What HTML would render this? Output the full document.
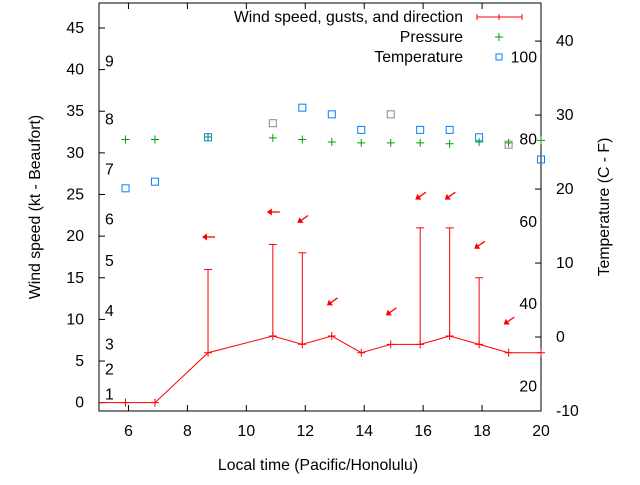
<!DOCTYPE html>
<html><head><meta charset="utf-8"><style>
body{margin:0;background:#fff}
svg{font-family:"Liberation Sans",sans-serif;font-size:15.8px}
</style></head><body>
<svg id="c" width="640" height="480"></svg>
<script>
const hours=[5.9,6.9,8.7,10.9,11.9,12.9,13.9,14.9,15.9,16.9,17.9,18.9,20];
const windSpeed=[0,0,6,8,7,8,6,7,7,8,7,6,6];
const gustHours=[8.7,10.9,11.9,15.9,16.9,17.9];
const gustValues=[16,19,18,21,21,15];
const pressure=[31.6,31.6,31.9,31.8,31.6,31.3,31.2,31.2,31.2,31.1,31.3,31.2,31.5];
const temperature=[20.1,21,27,28.9,31,30.1,28,30.1,28,28,27,26,24];
const tempGray=[0,0,0,1,0,0,0,1,0,0,0,1,0];
const arrowHours=[8.7,10.9,11.9,12.9,14.9,15.9,16.9,17.9,18.9];
const arrowY=[19.9,22.9,22,12.1,10.9,24.8,24.8,18.9,9.8];
const arrowDir=[0,0,35,35,35,35,35,35,35];
const xTicks=[6,8,10,12,14,16,18,20];
const yTicks=[0,5,10,15,20,25,30,35,40,45];
const tTicks=[-10,0,10,20,30,40];
const beaufort=[1,2,3,4,5,6,7,8,9];
const beaufortY=[1,4,7,11,17,22,28,34,41];
const fahr=[20,40,60,80,100];
const L=99,R=541,T=3,B=411;
const X=h=>L+(h-5)/15*(R-L);
const Y=v=>B-(v+1)/49*(B-T);
const TY=t=>B-(t+10)/55.15*(B-T);
const s=document.getElementById('c');const NS='http://www.w3.org/2000/svg';
function el(tag,a,p){const e=document.createElementNS(NS,tag);for(const k in a)e.setAttribute(k,a[k]);(p||s).appendChild(e);return e;}
function tx(x,y,t,anchor,extra){const e=el('text',Object.assign({x:x,y:y,'text-anchor':anchor||'middle'},extra||{}));e.textContent=t;return e;}
let fr=el('rect',{x:L,y:T,width:R-L,height:B-T,fill:'none',stroke:'#000'});

xTicks.forEach(h=>{const x=X(h);el('path',{d:`M${x} ${B}v-6M${x} ${T}v6`,stroke:'#000'});
 let t=tx(x,B+25,String(h));});
yTicks.forEach(v=>{const y=Y(v);el('path',{d:`M${L} ${y}h6`,stroke:'#000'});
 let t=tx(L-15,y+5,String(v),'end');});
tTicks.forEach(v=>{const y=TY(v);el('path',{d:`M${R} ${y}h-6`,stroke:'#000'});
 let t=tx(R+15,y+5,String(v),'start');});
beaufort.forEach((b,i)=>{let t=tx(105,Y(beaufortY[i])+5,String(b),'start');});
fahr.forEach(f=>{const c=(f-32)*5/9;let t=tx(537,TY(c)+5,String(f),'end');});
pressure.forEach((p,i)=>{let e=el('path',{d:`M${X(hours[i])-4} ${Y(p)}h8M${X(hours[i])} ${Y(p)-4}v8`,stroke:'#00a000'});
 });
temperature.forEach((t,i)=>{let e=el('rect',{x:X(hours[i])-3.5,y:TY(t)-3.5,width:7,height:7,fill:'none',stroke:tempGray[i]?'#888':'#0080ff'});
 });
gustHours.forEach((h,i)=>{const j=hours.indexOf(h);const x=X(h);
 let e=el('path',{d:`M${x} ${Y(windSpeed[j])}V${Y(gustValues[i])}M${x-4} ${Y(gustValues[i])}h8`,stroke:'#f00'});
 });
let ln=el('polyline',{points:X(5)+','+Y(windSpeed[0])+' '+hours.map((h,i)=>X(h)+','+Y(windSpeed[i])).join(' '),fill:'none',stroke:'#f00'});

hours.forEach((h,i)=>{let e=el('path',{d:`M${X(h)-4} ${Y(windSpeed[i])}h8M${X(h)} ${Y(windSpeed[i])-4}v8`,stroke:'#f00'});
 });
arrowHours.forEach((h,i)=>{const g=el('g',{transform:`translate(${X(h)},${Y(arrowY[i])}) rotate(${-arrowDir[i]})`});
 
 el('path',{d:'M-5 0H7',stroke:'#f00','stroke-width':1.3},g);el('path',{d:'M-6 0L-1 -3.5L-1 3.5Z',fill:'#f00'},g);});
const lg=el('g',{});
[['Wind speed, gusts, and direction',17],['Pressure',37],['Temperature',57]].forEach(a=>{const t=el('text',{x:463,y:a[1]+5,'text-anchor':'end'},lg);t.textContent=a[0];});
el('path',{d:'M477 17h45M477 14v6M522 14v6M499 14v6',stroke:'#f00'},lg);
el('path',{d:'M495 37h8M499 33v8',stroke:'#00a000'},lg);
el('rect',{x:496,y:54,width:6,height:6,fill:'none',stroke:'#0080ff'},lg);
let xl=tx(318,470,'Local time (Pacific/Honolulu)');
let yl=tx(0,0,'Wind speed (kt - Beaufort)','middle',{transform:'translate(40,207) rotate(-90)'});
let y2=tx(0,0,'Temperature (C - F)','middle',{transform:'translate(609,207) rotate(-90)'});
</script></body></html>
